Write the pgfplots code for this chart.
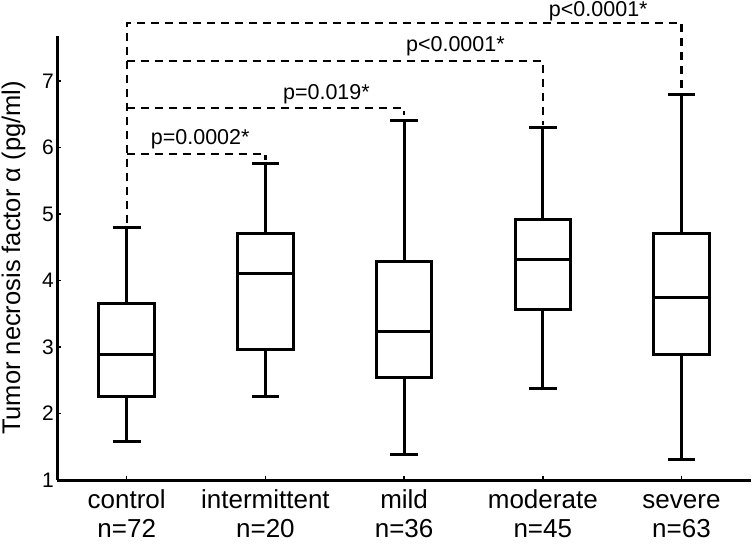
\documentclass[border=0pt]{standalone}
\usepackage{fontspec}
\setmainfont{Liberation Sans}
\usepackage{pgfplots}
\pgfplotsset{compat=1.18}
\usepgfplotslibrary{statistics}
\begin{document}
\begin{tikzpicture}
\begin{axis}[
 at={(0,0)}, anchor=south west,
 scale only axis, width=693.5pt, height=444pt,
 xmin=-0.5, xmax=4.5, ymin=1, ymax=7.677,
 axis lines*=left,
 axis line style={-, line width=3pt},
 xtick={0,1,2,3,4},
 xticklabels={{\strut control\\n=72},{\strut intermittent\\n=20},{\strut mild\\n=36},{\strut moderate\\n=45},{\strut severe\\n=63}},
 x tick label style={align=center, font=\fontsize{26}{29.5}\selectfont, yshift=-4pt},
 ytick={1,2,3,4,5,6,7},
 y tick label style={font=\fontsize{21}{25}\selectfont},
 /pgf/number format/assume math mode=true,
 tick align=inside,
 major tick length=4pt,
 tick style={line width=1.5pt, black},
 ylabel={Tumor necrosis factor α (pg/ml)},
 ylabel style={at={(axis description cs:-0.0632,0.5)}, anchor=center, font=\fontsize{25.5}{30}\selectfont},
 clip=false,
 boxplot/draw direction=y,
 boxplot/box extend=0.4,
 boxplot/whisker extend=0.2,
]
% box plots
\addplot[black, line width=3pt, mark=none, boxplot prepared={draw position=0, lower whisker=1.58, lower quartile=2.26, median=2.89, upper quartile=3.66, upper whisker=4.79}] coordinates {};
\addplot[black, line width=3pt, mark=none, boxplot prepared={draw position=1, lower whisker=2.25, lower quartile=2.97, median=4.11, upper quartile=4.70, upper whisker=5.76}] coordinates {};
\addplot[black, line width=3pt, mark=none, boxplot prepared={draw position=2, lower whisker=1.39, lower quartile=2.54, median=3.23, upper quartile=4.28, upper whisker=6.41}] coordinates {};
\addplot[black, line width=3pt, mark=none, boxplot prepared={draw position=3, lower whisker=2.38, lower quartile=3.57, median=4.32, upper quartile=4.92, upper whisker=6.30}] coordinates {};
\addplot[black, line width=3pt, mark=none, boxplot prepared={draw position=4, lower whisker=1.31, lower quartile=2.89, median=3.75, upper quartile=4.71, upper whisker=6.80}] coordinates {};
% significance brackets
\addplot[black, line width=2.4pt, mark=none, dash pattern=on 8pt off 6pt] coordinates {(0,4.86) (0,7.87) (4,7.87) (4,6.86)};
\addplot[black, line width=2.4pt, mark=none, dash pattern=on 8pt off 6pt] coordinates {(0,5.90) (1,5.90) (1,5.81)};
\addplot[black, line width=2.4pt, mark=none, dash pattern=on 8pt off 6pt] coordinates {(0,6.59) (2,6.59) (2,6.49)};
\addplot[black, line width=2.4pt, mark=none, dash pattern=on 8pt off 6pt] coordinates {(0,7.30) (3,7.30) (3,6.34)};
\node[anchor=base, font=\fontsize{21.5}{25}\selectfont, inner sep=0pt] at (axis cs:0.53,6.04) {p=0.0002*};
\node[anchor=base, font=\fontsize{21.5}{25}\selectfont, inner sep=0pt] at (axis cs:1.44,6.72) {p=0.019*};
\node[anchor=base, font=\fontsize{21.5}{25}\selectfont, inner sep=0pt] at (axis cs:2.37,7.44) {p<0.0001*};
\node[anchor=base, font=\fontsize{21.5}{25}\selectfont, inner sep=0pt] at (axis cs:3.40,7.97) {p<0.0001*};
\end{axis}
\pgfresetboundingbox
\path (-57.35pt,-64pt) rectangle (696.65pt,480pt);
\end{tikzpicture}
\end{document}
